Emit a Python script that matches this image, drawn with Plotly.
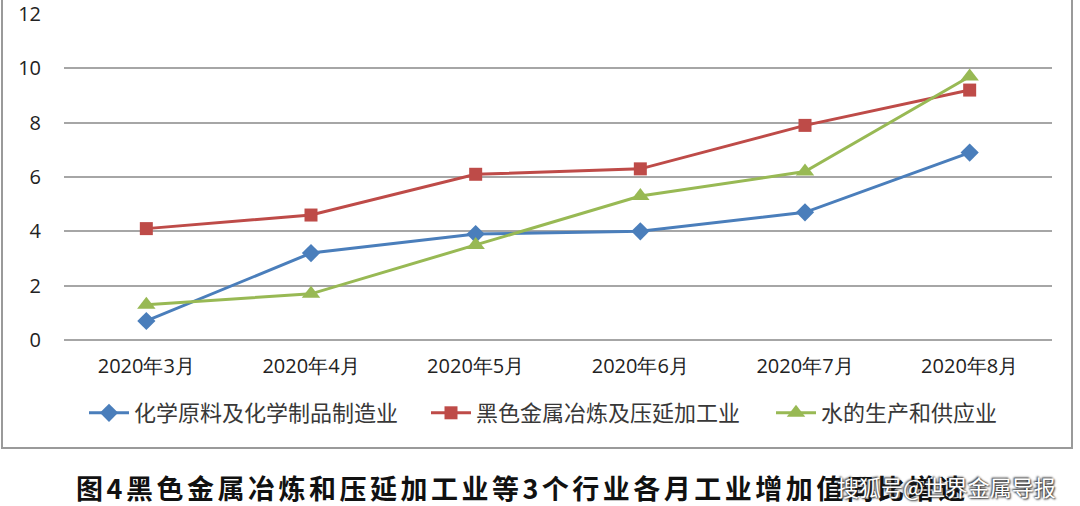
import plotly.graph_objects as go

months = ["2020年3月", "2020年4月", "2020年5月", "2020年6月", "2020年7月", "2020年8月"]
chem = [0.7, 3.2, 3.9, 4.0, 4.7, 6.9]
steel = [4.1, 4.6, 6.1, 6.3, 7.9, 9.2]
water = [1.3, 1.7, 3.5, 5.3, 6.2, 9.7]

series = [
    ("化学原料及化学制品制造业", chem, "#4A7EBB", "diamond", 14, "legend", 84),
    ("黑色金属冶炼及压延加工业", steel, "#BE4B48", "square", 13, "legend2", 426),
    ("水的生产和供应业", water, "#98B954", "triangle-up", 16, "legend3", 771),
]

H = 326  # plot height in px
W = 988  # plot width in px
L = 64

fig = go.Figure()
legends = {}
for name, vals, color, sym, size, lg, px in series:
    fig.add_trace(go.Scatter(
        x=months, y=vals, name=name, mode="lines+markers", legend=lg,
        line=dict(color=color, width=3),
        marker=dict(symbol=sym, size=size, color=color),
    ))
    legends[lg] = dict(orientation="h", x=(px - L) / W, xanchor="left", y=-73 / H,
                       yanchor="middle", font=dict(size=22, color="#383838"),
                       itemwidth=40, bgcolor="rgba(0,0,0,0)")

fig.update_layout(
    width=1080, height=506,
    margin=dict(l=L, r=28, t=14, b=166, autoexpand=False),
    paper_bgcolor="white", plot_bgcolor="white",
    font=dict(family="Noto Sans CJK SC, sans-serif", color="#222"),
    showlegend=True,
    xaxis=dict(range=[-0.5, 5.5], showgrid=False, showline=False, ticks="", automargin=False,
               ticklabelstandoff=12,
               tickfont=dict(size=20, family="Open Sans, sans-serif", color="#222")),
    yaxis=dict(range=[0, 12], dtick=2, showgrid=True, gridcolor="#a6a6a6", gridwidth=1.5,
               zeroline=True, zerolinecolor="#a6a6a6", zerolinewidth=1.5,
               showline=False, ticks="", automargin=False, ticklabelstandoff=22,
               tickfont=dict(size=20, family="Open Sans, sans-serif", color="#222")),
    **legends,
)

# chart frame
fig.add_shape(type="rect", xref="paper", yref="paper",
              x0=-62 / W, x1=1008 / W, y0=-108 / H, y1=1 + 20 / H,
              line=dict(color="#9a9a9a", width=2), fillcolor="rgba(0,0,0,0)")

fig.add_annotation(text="<b><span style='letter-spacing:3.5px'>图4黑色金属冶炼和压延加工业等3个行业各月工业增加值同比增速</span></b>",
                   xref="paper", yref="paper", x=10 / W, xanchor="left",
                   y=-147 / H, yanchor="middle", showarrow=False,
                   font=dict(size=27, color="#111", family="Noto Sans CJK SC, sans-serif"))
fig.add_annotation(text="搜狐号@世界金属导报",
                   xref="paper", yref="paper", x=994 / W, xanchor="right",
                   y=-146 / H, yanchor="middle", showarrow=False,
                   font=dict(size=22, color="white", family="Noto Sans CJK SC, sans-serif",
                             shadow="1px 1px 2px #222, -1px -1px 2px #222"))

fig.write_html("out.html", config={"displayModeBar": False},
               post_script="document.body.style.margin='0';")
